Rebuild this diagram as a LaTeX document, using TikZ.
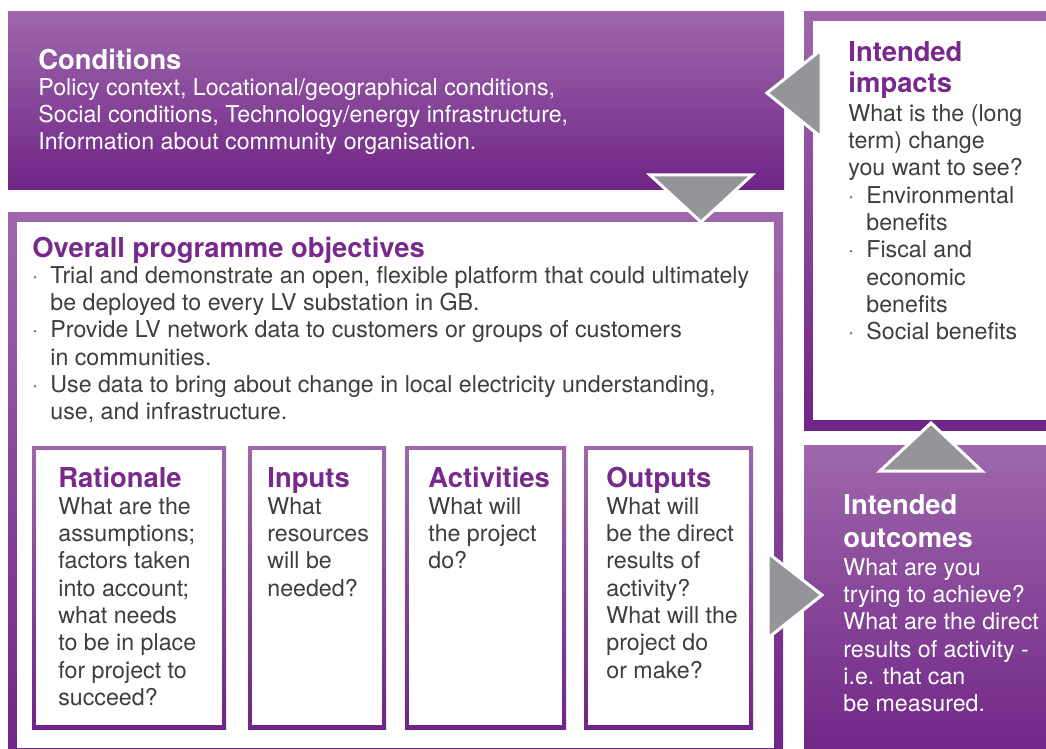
\documentclass[tikz,border=0pt]{standalone}
\usepackage{fontspec}
\setmainfont{TeX Gyre Heros}
\usetikzlibrary{positioning}
\definecolor{plum}{HTML}{6F2586}
\definecolor{lilac}{HTML}{9E67AB}
\definecolor{headpurple}{HTML}{772A8B}
\definecolor{bodygrey}{HTML}{3E3E3E}
\definecolor{arrowgrey}{HTML}{939598}
\definecolor{dotblue}{HTML}{4F7F9A}
% first baseline sits at the node's coordinate (strut = 0.7 baselineskip)
\tikzstyle{bodytext}=[anchor=north west,inner sep=0pt,align=left,text=bodygrey,
    font=\fontsize{11.6}{13.65}\selectfont,execute at begin node=\strut,yshift=9.555pt]
\tikzstyle{headtext}=[anchor=north west,inner sep=0pt,align=left,text=headpurple,
    font=\fontsize{13.7}{15.5}\selectfont\bfseries,execute at begin node=\strut,yshift=10.85pt]
\newcommand{\bul}{\llap{\textcolor{dotblue}{\textperiodcentered}\hspace{6pt}}}

\begin{document}
\begin{tikzpicture}[x=0.5pt,y=-0.5pt]
    \tikzstyle{pointer}=[fill=arrowgrey,draw=white,line width=1.5pt,line join=miter]
    \tikzstyle{shadebox}=[top color=lilac,bottom color=plum]
    \useasboundingbox (0,0) rectangle (1046,749);
    \clip (0,0) rectangle (1046,749);
    % boxes
    \shade[shadebox] (8,12) rectangle (784,190);
    \shade[shadebox] (804,12) rectangle (1060,430);
    \fill[white] (813,21) rectangle (1060,420);
    \shade[shadebox] (8,213) rectangle (783,757);
    \fill[white] (17,222) rectangle (774,748);
    \shade[shadebox] (804,445) rectangle (1060,760);
    \shade[shadebox] (32,446) rectangle (226,729);
    \fill[white] (36,450) rectangle (222,725);
    \shade[shadebox] (248,446) rectangle (386,729);
    \fill[white] (252,450) rectangle (382,725);
    \shade[shadebox] (405,446) rectangle (566,729);
    \fill[white] (409,450) rectangle (562,725);
    \shade[shadebox] (584,446) rectangle (753,729);
    \fill[white] (588,450) rectangle (749,725);
    % arrows
    \filldraw[pointer] (821,50) -- (767,93) -- (821,137) -- cycle;
    \filldraw[pointer] (650,175) -- (752,175) -- (701,222) -- cycle;
    \filldraw[pointer] (768,553) -- (822,595) -- (768,638) -- cycle;
    \filldraw[pointer] (880,471) -- (931,423) -- (982,471) -- cycle;
    % texts
    \node[headtext,text=white] (condhead) at (38,69) {Conditions};
    \node[bodytext,text=white] (condbody) at (38,97) {Policy context, Locational/geographical conditions,\\
        Social conditions, Technology/energy infrastructure,\\
        Information about community organisation.};
    \node[headtext] (imphead) at (848,63) {Intended\\impacts};
    \node[bodytext] (impbody) at (848,123) {What is the (long\\term) change\\you want to see?};
    \node[bodytext] (implist) at (866,205) {\bul Environmental\\benefits\\
        \bul Fiscal and\\economic\\benefits\\
        \bul Social benefits};
    \node[headtext] (objhead) at (32,257) {Overall programme objectives};
    \node[bodytext] (objlist) at (50,285) {\bul Trial and demonstrate an open, flexible platform that could ultimately\\
        be deployed to every LV substation in GB.\\
        \bul Provide LV network data to customers or groups of customers\\
        in communities.\\
        \bul Use data to bring about change in local electricity understanding,\\
        use, and infrastructure.};
    \node[headtext] (rathead) at (58,487) {Rationale};
    \node[bodytext] (ratbody) at (58,516) {What are the\\assumptions;\\factors taken\\into account;\\what needs\\to be in place\\for project to\\succeed?};
    \node[headtext] (inphead) at (267,487) {Inputs};
    \node[bodytext] (inpbody) at (267,516) {What\\resources\\will be\\needed?};
    \node[headtext] (acthead) at (428,487) {Activities};
    \node[bodytext] (actbody) at (428,516) {What will\\the project\\do?};
    \node[headtext] (outhead) at (606,487) {Outputs};
    \node[bodytext] (outbody) at (606,516) {What will\\be the direct\\results of\\activity?\\What will the\\project do\\or make?};
    \node[headtext,text=white,font=\fontsize{13.7}{16.5}\selectfont\bfseries,yshift=0.7pt] (ochead) at (843,517) {Intended\\outcomes};
    \node[bodytext,text=white] (ocbody) at (843,577) {What are you\\trying to achieve?\\What are the direct\\results of activity -\\i.e. that can\\be measured.};
\end{tikzpicture}
\end{document}
